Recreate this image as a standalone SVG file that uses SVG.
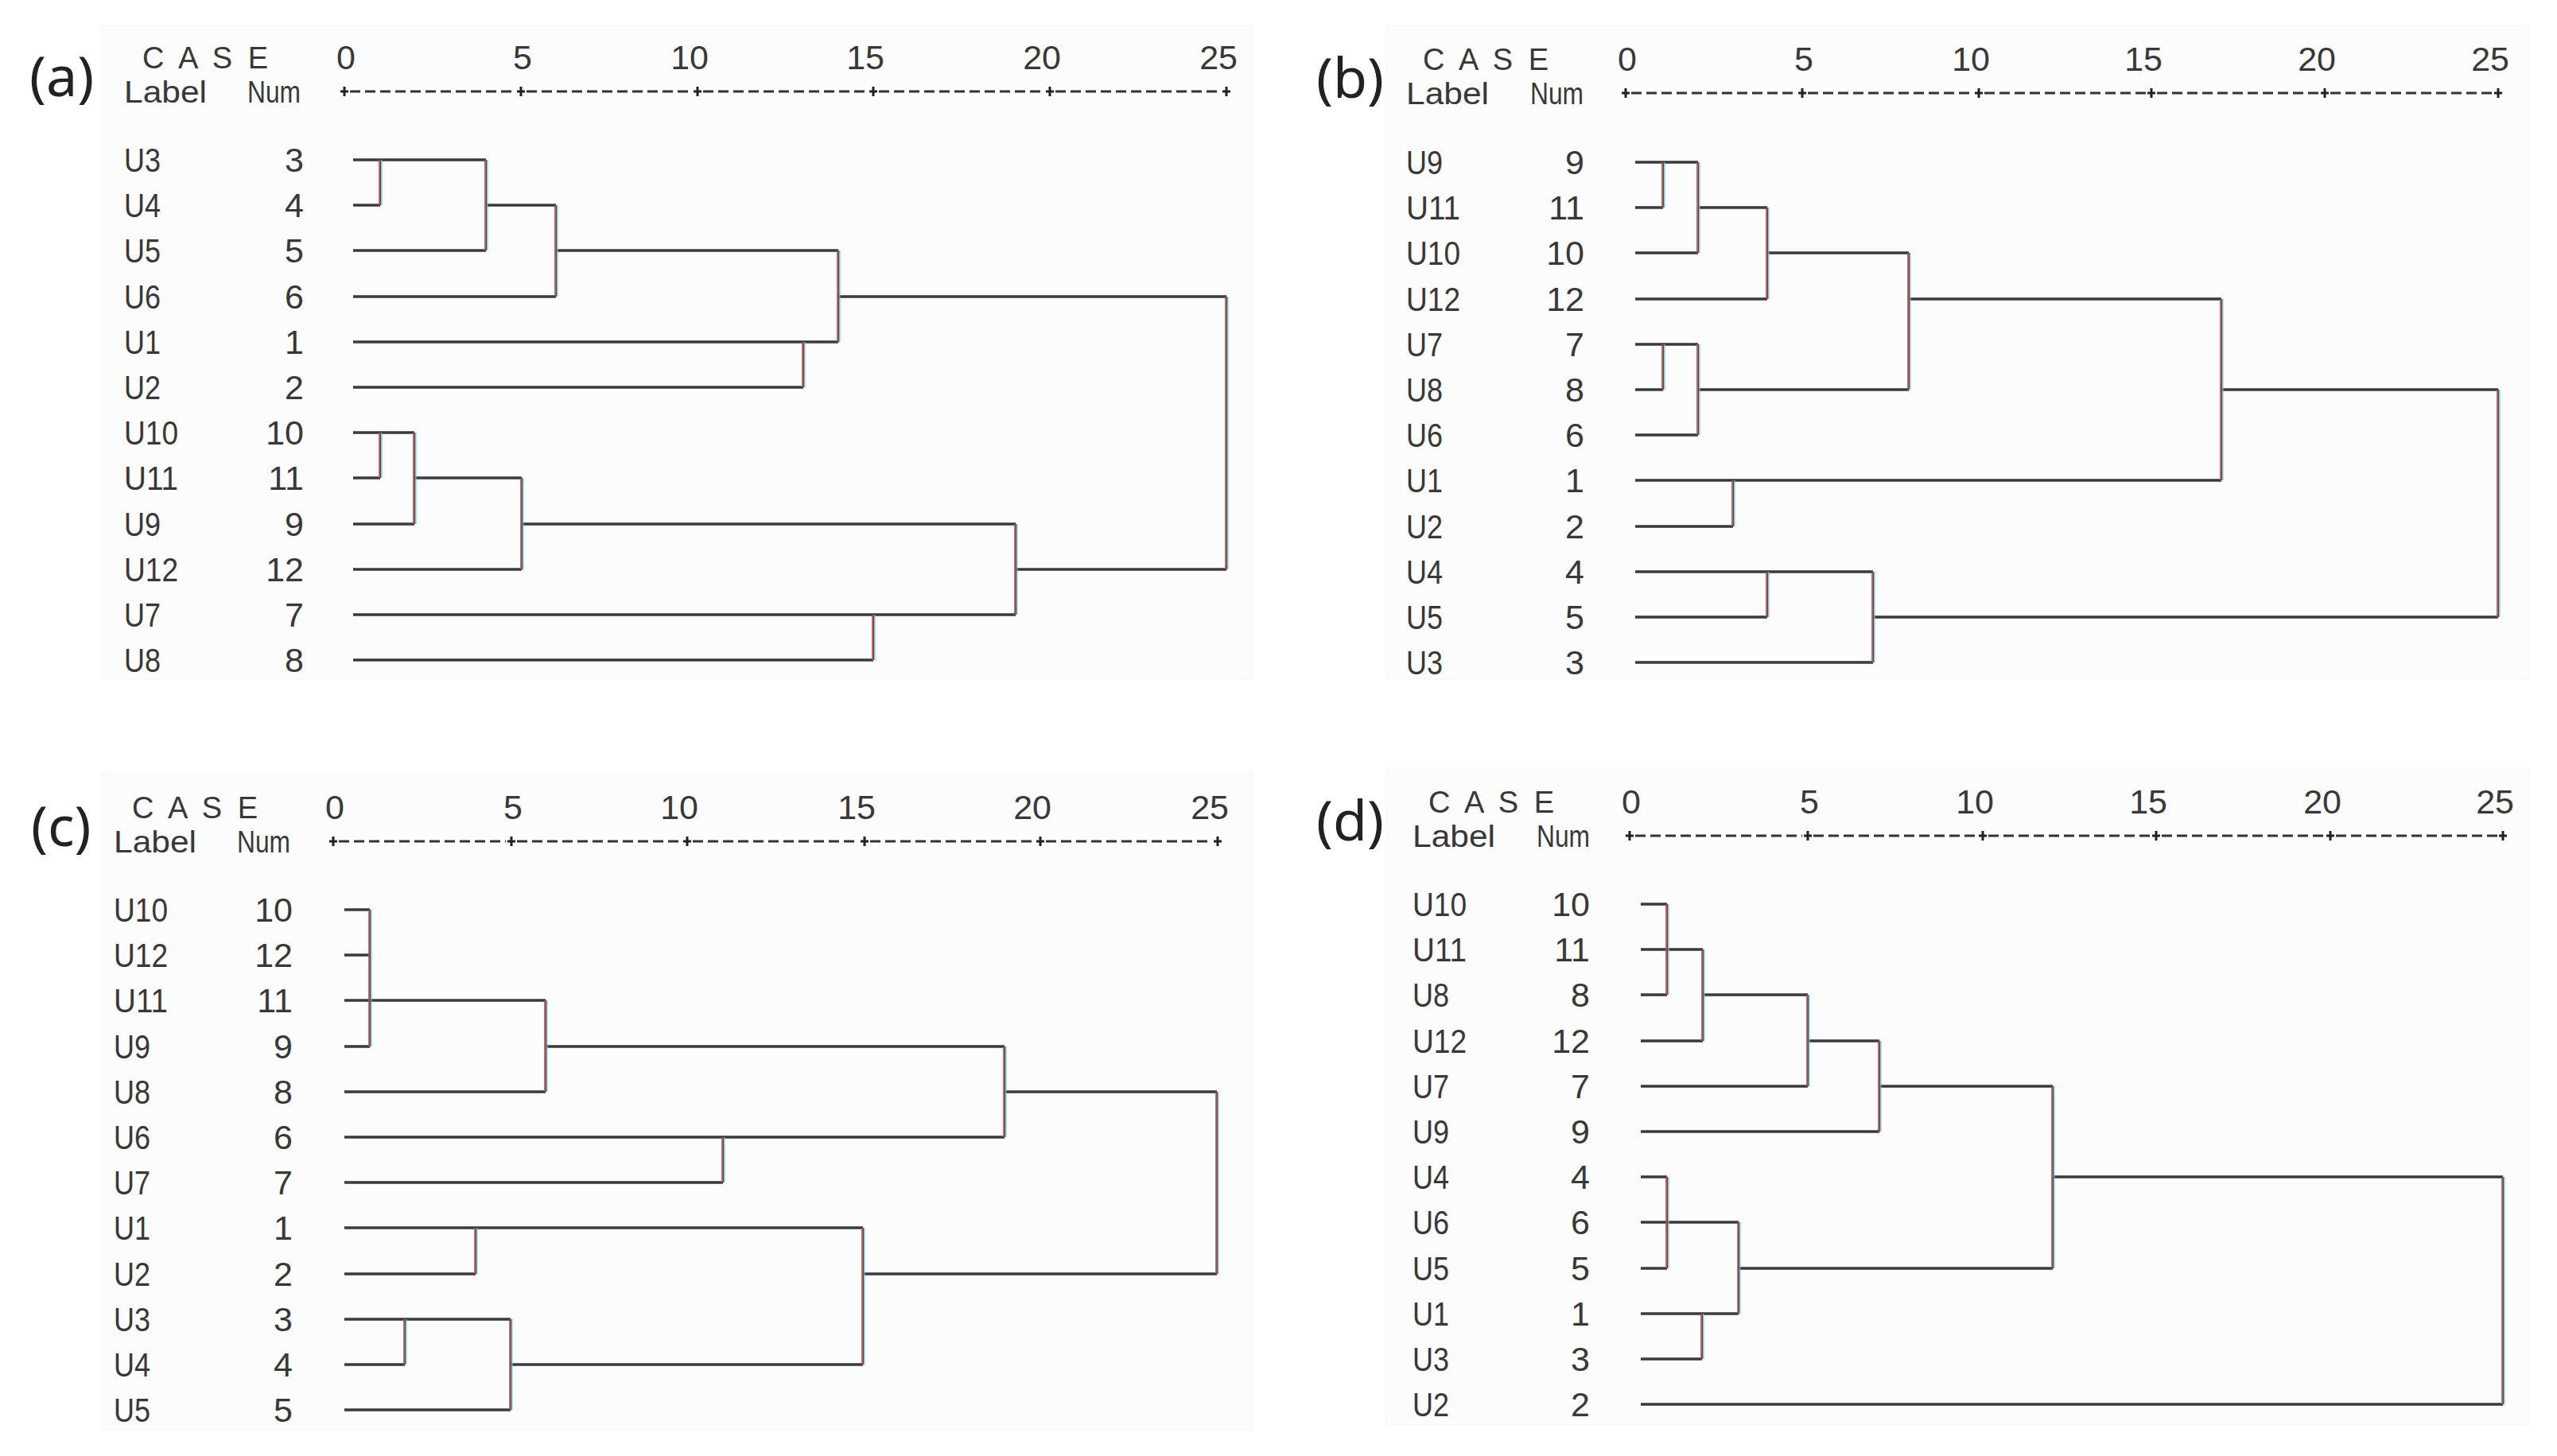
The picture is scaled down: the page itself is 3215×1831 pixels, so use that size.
<svg xmlns="http://www.w3.org/2000/svg" xmlns:xlink="http://www.w3.org/1999/xlink" width="3215" height="1831" viewBox="0 0 3215 1831">
<style>
.bg{fill:#fcfcfc;stroke:#f5f5f5;stroke-width:1}
.h{fill:none;stroke:#3a3a3a;stroke-width:3.6}
.vr{fill:none;stroke:#cc4b4b;stroke-width:1.7}
.vk{fill:none;stroke:#4a4a4a;stroke-width:1.4}
.vc{fill:none;stroke:#62c3df;stroke-width:1.2}
.t{font-family:"Liberation Sans",Arial,sans-serif;font-size:43px;fill:#383838}
.hd{font-family:"Liberation Sans",Arial,sans-serif;font-size:38px;fill:#383838}
.n{text-anchor:end}
.p{font-family:"Noto Sans","Liberation Sans",sans-serif;font-size:70px;fill:#222}
.ax{fill:none;stroke:#333;stroke-width:3;stroke-dasharray:13 6}
.tk{fill:none;stroke:#222;stroke-width:3}
</style>
<defs>
<path id="va" d="M478 201V258 M611 201V315 M699 258V373 M1054 315V430 M1010 430V487 M1542 373V716 M478 544V601 M521 544V659 M656 601V716 M1277 659V773 M1098 773V830"/>
<path id="vb" d="M2091 204V261 M2135 204V318 M2222 261V376 M2400 318V490 M2091 433V490 M2135 433V547 M2793 376V604 M2179 604V662 M3141 490V776 M2222 719V776 M2355 719V833"/>
<path id="vcpath" d="M465 1144V1316 M686 1258V1373 M1263 1316V1430 M909 1430V1487 M1530 1373V1602 M598 1544V1602 M1085 1544V1716 M509 1659V1716 M642 1659V1773"/>
<path id="vd" d="M2096 1137V1251 M2141 1194V1309 M2273 1251V1366 M2363 1309V1423 M2581 1366V1595 M3147 1480V1766 M2096 1480V1595 M2186 1537V1652 M2140 1652V1709"/>
</defs>
<rect width="3215" height="1831" fill="#ffffff"/>
<rect class="bg" x="128" y="32" width="1447" height="822"/>
<rect class="bg" x="1743" y="32" width="1437" height="822"/>
<rect class="bg" x="128" y="972" width="1447" height="826"/>
<rect class="bg" x="1743" y="966" width="1437" height="826"/>

<!-- Panel (a) -->
<g id="panel-a">
<text class="p" x="37" y="121">(a)</text>
<g id="a-header">
<text class="hd" x="179" y="86" textLength="158" lengthAdjust="spacing">C A S E</text>
<text class="hd" x="156" y="129" textLength="104" lengthAdjust="spacingAndGlyphs">Label</text>
<text class="hd" x="311" y="129" textLength="67" lengthAdjust="spacingAndGlyphs">Num</text>
<text class="t n" x="447" y="87">0</text>
<text class="t n" x="669" y="87">5</text>
<text class="t n" x="891" y="87">10</text>
<text class="t n" x="1112" y="87">15</text>
<text class="t n" x="1334" y="87">20</text>
<text class="t n" x="1556" y="87">25</text>
<path class="ax" d="M440 115H648 M662 115H870 M884 115H1091 M1105 115H1313 M1327 115H1535"/>
<path class="tk" d="M428 115H438 M433 109V121 M650 115H660 M655 109V121 M872 115H882 M877 109V121 M1093 115H1103 M1098 109V121 M1315 115H1325 M1320 109V121 M1537 115H1547 M1542 109V121"/>
</g>
<g id="a-U3"><text class="t" x="156" y="216" textLength="46" lengthAdjust="spacingAndGlyphs">U3</text><text class="t n" x="382" y="216">3</text></g>
<g id="a-U4"><text class="t" x="156" y="273" textLength="46" lengthAdjust="spacingAndGlyphs">U4</text><text class="t n" x="382" y="273">4</text></g>
<g id="a-U5"><text class="t" x="156" y="330" textLength="46" lengthAdjust="spacingAndGlyphs">U5</text><text class="t n" x="382" y="330">5</text></g>
<g id="a-U6"><text class="t" x="156" y="388" textLength="46" lengthAdjust="spacingAndGlyphs">U6</text><text class="t n" x="382" y="388">6</text></g>
<g id="a-U1"><text class="t" x="156" y="445" textLength="46" lengthAdjust="spacingAndGlyphs">U1</text><text class="t n" x="382" y="445">1</text></g>
<g id="a-U2"><text class="t" x="156" y="502" textLength="46" lengthAdjust="spacingAndGlyphs">U2</text><text class="t n" x="382" y="502">2</text></g>
<g id="a-U10"><text class="t" x="156" y="559" textLength="68" lengthAdjust="spacingAndGlyphs">U10</text><text class="t n" x="382" y="559">10</text></g>
<g id="a-U11"><text class="t" x="156" y="616" textLength="68" lengthAdjust="spacingAndGlyphs">U11</text><text class="t n" x="382" y="616">11</text></g>
<g id="a-U9"><text class="t" x="156" y="674" textLength="46" lengthAdjust="spacingAndGlyphs">U9</text><text class="t n" x="382" y="674">9</text></g>
<g id="a-U12"><text class="t" x="156" y="731" textLength="68" lengthAdjust="spacingAndGlyphs">U12</text><text class="t n" x="382" y="731">12</text></g>
<g id="a-U7"><text class="t" x="156" y="788" textLength="46" lengthAdjust="spacingAndGlyphs">U7</text><text class="t n" x="382" y="788">7</text></g>
<g id="a-U8"><text class="t" x="156" y="845" textLength="46" lengthAdjust="spacingAndGlyphs">U8</text><text class="t n" x="382" y="845">8</text></g>
</g>

<!-- Panel (b) -->
<g id="panel-b">
<text class="p" x="1655" y="123">(b)</text>
<g id="b-header">
<text class="hd" x="1789" y="88" textLength="158" lengthAdjust="spacing">C A S E</text>
<text class="hd" x="1768" y="131" textLength="104" lengthAdjust="spacingAndGlyphs">Label</text>
<text class="hd" x="1924" y="131" textLength="67" lengthAdjust="spacingAndGlyphs">Num</text>
<text class="t n" x="2058" y="89">0</text>
<text class="t n" x="2280" y="89">5</text>
<text class="t n" x="2502" y="89">10</text>
<text class="t n" x="2719" y="89">15</text>
<text class="t n" x="2937" y="89">20</text>
<text class="t n" x="3155" y="89">25</text>
<path class="ax" d="M2051 117H2259 M2273 117H2481 M2495 117H2698 M2712 117H2916 M2930 117H3134"/>
<path class="tk" d="M2039 117H2049 M2044 111V123 M2261 117H2271 M2266 111V123 M2483 117H2493 M2488 111V123 M2700 117H2710 M2705 111V123 M2918 117H2928 M2923 111V123 M3136 117H3146 M3141 111V123"/>
</g>
<g id="b-U9"><text class="t" x="1768" y="219" textLength="46" lengthAdjust="spacingAndGlyphs">U9</text><text class="t n" x="1992" y="219">9</text></g>
<g id="b-U11"><text class="t" x="1768" y="276" textLength="68" lengthAdjust="spacingAndGlyphs">U11</text><text class="t n" x="1992" y="276">11</text></g>
<g id="b-U10"><text class="t" x="1768" y="333" textLength="68" lengthAdjust="spacingAndGlyphs">U10</text><text class="t n" x="1992" y="333">10</text></g>
<g id="b-U12"><text class="t" x="1768" y="391" textLength="68" lengthAdjust="spacingAndGlyphs">U12</text><text class="t n" x="1992" y="391">12</text></g>
<g id="b-U7"><text class="t" x="1768" y="448" textLength="46" lengthAdjust="spacingAndGlyphs">U7</text><text class="t n" x="1992" y="448">7</text></g>
<g id="b-U8"><text class="t" x="1768" y="505" textLength="46" lengthAdjust="spacingAndGlyphs">U8</text><text class="t n" x="1992" y="505">8</text></g>
<g id="b-U6"><text class="t" x="1768" y="562" textLength="46" lengthAdjust="spacingAndGlyphs">U6</text><text class="t n" x="1992" y="562">6</text></g>
<g id="b-U1"><text class="t" x="1768" y="619" textLength="46" lengthAdjust="spacingAndGlyphs">U1</text><text class="t n" x="1992" y="619">1</text></g>
<g id="b-U2"><text class="t" x="1768" y="677" textLength="46" lengthAdjust="spacingAndGlyphs">U2</text><text class="t n" x="1992" y="677">2</text></g>
<g id="b-U4"><text class="t" x="1768" y="734" textLength="46" lengthAdjust="spacingAndGlyphs">U4</text><text class="t n" x="1992" y="734">4</text></g>
<g id="b-U5"><text class="t" x="1768" y="791" textLength="46" lengthAdjust="spacingAndGlyphs">U5</text><text class="t n" x="1992" y="791">5</text></g>
<g id="b-U3"><text class="t" x="1768" y="848" textLength="46" lengthAdjust="spacingAndGlyphs">U3</text><text class="t n" x="1992" y="848">3</text></g>
</g>

<!-- Panel (c) -->
<g id="panel-c">
<text class="p" x="39" y="1064">(c)</text>
<g id="c-header">
<text class="hd" x="166" y="1029" textLength="158" lengthAdjust="spacing">C A S E</text>
<text class="hd" x="143" y="1072" textLength="104" lengthAdjust="spacingAndGlyphs">Label</text>
<text class="hd" x="298" y="1072" textLength="67" lengthAdjust="spacingAndGlyphs">Num</text>
<text class="t n" x="433" y="1030">0</text>
<text class="t n" x="657" y="1030">5</text>
<text class="t n" x="878" y="1030">10</text>
<text class="t n" x="1101" y="1030">15</text>
<text class="t n" x="1322" y="1030">20</text>
<text class="t n" x="1545" y="1030">25</text>
<path class="ax" d="M426 1058H636 M650 1058H857 M871 1058H1080 M1094 1058H1301 M1315 1058H1524"/>
<path class="tk" d="M414 1058H424 M419 1052V1064 M638 1058H648 M643 1052V1064 M859 1058H869 M864 1052V1064 M1082 1058H1092 M1087 1052V1064 M1303 1058H1313 M1308 1052V1064 M1526 1058H1536 M1531 1052V1064"/>
</g>
<g id="c-U10"><text class="t" x="143" y="1159" textLength="68" lengthAdjust="spacingAndGlyphs">U10</text><text class="t n" x="368" y="1159">10</text></g>
<g id="c-U12"><text class="t" x="143" y="1216" textLength="68" lengthAdjust="spacingAndGlyphs">U12</text><text class="t n" x="368" y="1216">12</text></g>
<g id="c-U11"><text class="t" x="143" y="1273" textLength="68" lengthAdjust="spacingAndGlyphs">U11</text><text class="t n" x="368" y="1273">11</text></g>
<g id="c-U9"><text class="t" x="143" y="1331" textLength="46" lengthAdjust="spacingAndGlyphs">U9</text><text class="t n" x="368" y="1331">9</text></g>
<g id="c-U8"><text class="t" x="143" y="1388" textLength="46" lengthAdjust="spacingAndGlyphs">U8</text><text class="t n" x="368" y="1388">8</text></g>
<g id="c-U6"><text class="t" x="143" y="1445" textLength="46" lengthAdjust="spacingAndGlyphs">U6</text><text class="t n" x="368" y="1445">6</text></g>
<g id="c-U7"><text class="t" x="143" y="1502" textLength="46" lengthAdjust="spacingAndGlyphs">U7</text><text class="t n" x="368" y="1502">7</text></g>
<g id="c-U1"><text class="t" x="143" y="1559" textLength="46" lengthAdjust="spacingAndGlyphs">U1</text><text class="t n" x="368" y="1559">1</text></g>
<g id="c-U2"><text class="t" x="143" y="1617" textLength="46" lengthAdjust="spacingAndGlyphs">U2</text><text class="t n" x="368" y="1617">2</text></g>
<g id="c-U3"><text class="t" x="143" y="1674" textLength="46" lengthAdjust="spacingAndGlyphs">U3</text><text class="t n" x="368" y="1674">3</text></g>
<g id="c-U4"><text class="t" x="143" y="1731" textLength="46" lengthAdjust="spacingAndGlyphs">U4</text><text class="t n" x="368" y="1731">4</text></g>
<g id="c-U5"><text class="t" x="143" y="1788" textLength="46" lengthAdjust="spacingAndGlyphs">U5</text><text class="t n" x="368" y="1788">5</text></g>
</g>

<!-- Panel (d) -->
<g id="panel-d">
<text class="p" x="1655" y="1057">(d)</text>
<g id="d-header">
<text class="hd" x="1796" y="1022" textLength="158" lengthAdjust="spacing">C A S E</text>
<text class="hd" x="1776" y="1065" textLength="104" lengthAdjust="spacingAndGlyphs">Label</text>
<text class="hd" x="1932" y="1065" textLength="67" lengthAdjust="spacingAndGlyphs">Num</text>
<text class="t n" x="2063" y="1023">0</text>
<text class="t n" x="2287" y="1023">5</text>
<text class="t n" x="2507" y="1023">10</text>
<text class="t n" x="2725" y="1023">15</text>
<text class="t n" x="2944" y="1023">20</text>
<text class="t n" x="3161" y="1023">25</text>
<path class="ax" d="M2056 1051H2266 M2280 1051H2486 M2500 1051H2704 M2718 1051H2923 M2937 1051H3140"/>
<path class="tk" d="M2044 1051H2054 M2049 1045V1057 M2268 1051H2278 M2273 1045V1057 M2488 1051H2498 M2493 1045V1057 M2706 1051H2716 M2711 1045V1057 M2925 1051H2935 M2930 1045V1057 M3142 1051H3152 M3147 1045V1057"/>
</g>
<g id="d-U10"><text class="t" x="1776" y="1152" textLength="68" lengthAdjust="spacingAndGlyphs">U10</text><text class="t n" x="1999" y="1152">10</text></g>
<g id="d-U11"><text class="t" x="1776" y="1209" textLength="68" lengthAdjust="spacingAndGlyphs">U11</text><text class="t n" x="1999" y="1209">11</text></g>
<g id="d-U8"><text class="t" x="1776" y="1266" textLength="46" lengthAdjust="spacingAndGlyphs">U8</text><text class="t n" x="1999" y="1266">8</text></g>
<g id="d-U12"><text class="t" x="1776" y="1324" textLength="68" lengthAdjust="spacingAndGlyphs">U12</text><text class="t n" x="1999" y="1324">12</text></g>
<g id="d-U7"><text class="t" x="1776" y="1381" textLength="46" lengthAdjust="spacingAndGlyphs">U7</text><text class="t n" x="1999" y="1381">7</text></g>
<g id="d-U9"><text class="t" x="1776" y="1438" textLength="46" lengthAdjust="spacingAndGlyphs">U9</text><text class="t n" x="1999" y="1438">9</text></g>
<g id="d-U4"><text class="t" x="1776" y="1495" textLength="46" lengthAdjust="spacingAndGlyphs">U4</text><text class="t n" x="1999" y="1495">4</text></g>
<g id="d-U6"><text class="t" x="1776" y="1552" textLength="46" lengthAdjust="spacingAndGlyphs">U6</text><text class="t n" x="1999" y="1552">6</text></g>
<g id="d-U5"><text class="t" x="1776" y="1610" textLength="46" lengthAdjust="spacingAndGlyphs">U5</text><text class="t n" x="1999" y="1610">5</text></g>
<g id="d-U1"><text class="t" x="1776" y="1667" textLength="46" lengthAdjust="spacingAndGlyphs">U1</text><text class="t n" x="1999" y="1667">1</text></g>
<g id="d-U3"><text class="t" x="1776" y="1724" textLength="46" lengthAdjust="spacingAndGlyphs">U3</text><text class="t n" x="1999" y="1724">3</text></g>
<g id="d-U2"><text class="t" x="1776" y="1781" textLength="46" lengthAdjust="spacingAndGlyphs">U2</text><text class="t n" x="1999" y="1781">2</text></g>
</g>

<!-- Connectors -->
<g id="connectors">
<path class="h" d="M444 201H611 M444 258H478 M611 258H699 M444 315H611 M699 315H1054 M444 373H699 M1054 373H1542 M444 430H1054 M444 487H1010 M444 544H521 M444 601H478 M521 601H656 M444 659H521 M656 659H1277 M444 716H656 M1277 716H1542 M444 773H1277 M444 830H1098"/>
<path class="h" d="M2056 204H2135 M2056 261H2091 M2135 261H2222 M2056 318H2135 M2222 318H2400 M2056 376H2222 M2400 376H2793 M2056 433H2135 M2056 490H2091 M2135 490H2400 M2793 490H3141 M2056 547H2135 M2056 604H2793 M2056 662H2179 M2056 719H2355 M2056 776H2222 M2355 776H3141 M2056 833H2355"/>
<path class="h" d="M433 1144H465 M433 1201H465 M433 1258H686 M433 1316H465 M686 1316H1263 M433 1373H686 M1263 1373H1530 M433 1430H1263 M433 1487H909 M433 1544H1085 M433 1602H598 M1085 1602H1530 M433 1659H642 M433 1716H509 M642 1716H1085 M433 1773H642"/>
<path class="h" d="M2063 1137H2096 M2063 1194H2141 M2063 1251H2096 M2141 1251H2273 M2063 1309H2141 M2273 1309H2363 M2063 1366H2273 M2363 1366H2581 M2063 1423H2363 M2063 1480H2096 M2581 1480H3147 M2063 1537H2186 M2063 1595H2096 M2186 1595H2581 M2063 1652H2186 M2063 1709H2140 M2063 1766H3147"/>
<use href="#va" class="vr" transform="translate(-1 0)"/><use href="#va" class="vk" transform="translate(0.5 0)"/><use href="#va" class="vc" transform="translate(1.9 0)"/>
<use href="#vb" class="vr" transform="translate(-1 0)"/><use href="#vb" class="vk" transform="translate(0.5 0)"/><use href="#vb" class="vc" transform="translate(1.9 0)"/>
<use href="#vcpath" class="vr" transform="translate(-1 0)"/><use href="#vcpath" class="vk" transform="translate(0.5 0)"/><use href="#vcpath" class="vc" transform="translate(1.9 0)"/>
<use href="#vd" class="vr" transform="translate(-1 0)"/><use href="#vd" class="vk" transform="translate(0.5 0)"/><use href="#vd" class="vc" transform="translate(1.9 0)"/>
</g>
</svg>
